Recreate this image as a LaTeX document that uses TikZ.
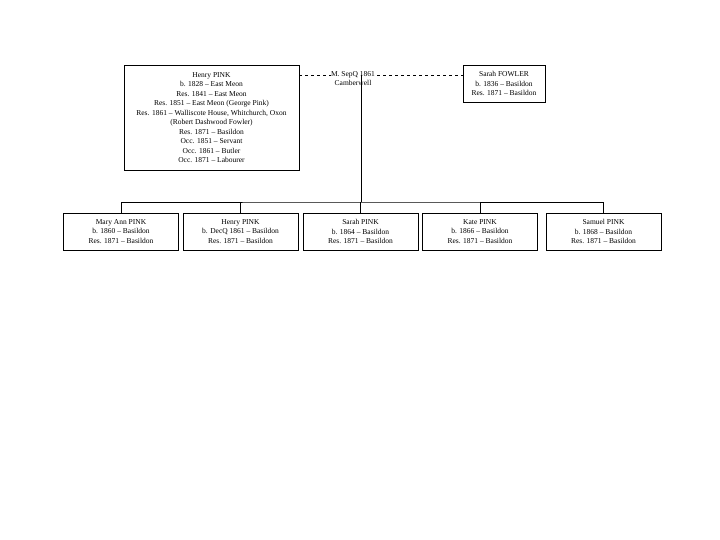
\documentclass[tikz,border=0pt]{standalone}
\usepackage{fontspec}
\setmainfont{Liberation Serif}
\tikzset{
  person/.style={draw, rectangle, align=center, line width=0.6pt, inner sep=1pt,
    font=\fontsize{7.5}{9.5}\selectfont},
  child/.style={person, minimum width=115pt, minimum height=37pt},
  line/.style={line width=0.6pt}
}
\begin{document}
\begin{tikzpicture}[x=1pt, y=-1pt]
\useasboundingbox (0,0) rectangle (720,540);
\node[person, minimum width=175pt, minimum height=105pt] (henry) at (211.5,117.5) {Henry PINK\\b. 1828 -- East Meon\\Res. 1841 -- East Meon\\Res. 1851 -- East Meon (George Pink)\\Res. 1861 -- Walliscote House, Whitchurch, Oxon\\(Robert Dashwood Fowler)\\Res. 1871 -- Basildon\\Occ. 1851 -- Servant\\Occ. 1861 -- Butler\\Occ. 1871 -- Labourer};
\node[person, minimum width=82pt, minimum height=37pt] (sarah) at (504,83.5) {Sarah FOWLER\\b. 1836 -- Basildon\\Res. 1871 -- Basildon};
\node[child] (c1) at (121,231.5) {Mary Ann PINK\\b. 1860 -- Basildon\\Res. 1871 -- Basildon};
\node[child] (c2) at (240.5,231.5) {Henry PINK\\b. DecQ 1861 -- Basildon\\Res. 1871 -- Basildon};
\node[child] (c3) at (360.5,231.5) {Sarah PINK\\b. 1864 -- Basildon\\Res. 1871 -- Basildon};
\node[child] (c4) at (480,231.5) {Kate PINK\\b. 1866 -- Basildon\\Res. 1871 -- Basildon};
\node[child] (c5) at (603.5,231.5) {Samuel PINK\\b. 1868 -- Basildon\\Res. 1871 -- Basildon};
\coordinate (marr) at (361,75);
\coordinate (bus) at (361,202);
\draw[line, dashed] (henry.east |- marr) -- (sarah.west |- marr);
\node[fill=white, inner sep=0.5pt, align=center, anchor=north,
  font=\fontsize{7.5}{9.5}\selectfont] (mlabel) at (353,70.5) {M. SepQ 1861\\Camberwell};
\draw[line] (marr) -- (bus);
\draw[line] (c1.north) |- (bus) -| (c5.north);
\foreach \c in {c2,c3,c4}
  \draw[line] (\c.north) -- (\c.north |- bus);
\end{tikzpicture}
\end{document}
